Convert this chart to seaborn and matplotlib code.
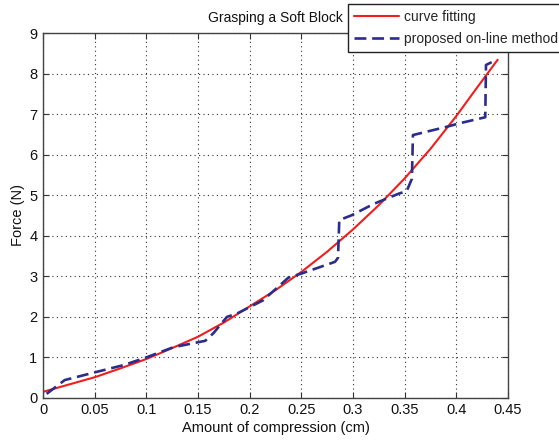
import matplotlib
matplotlib.use("Agg")
import matplotlib.pyplot as plt
import seaborn as sns
import pandas as pd

# Data
fit_x = [0.0, 0.025, 0.05, 0.075, 0.1, 0.125, 0.15, 0.175, 0.2, 0.225, 0.25,
         0.275, 0.3, 0.325, 0.35, 0.375, 0.4, 0.42, 0.44]
fit_y = [0.14, 0.32, 0.5, 0.72, 0.95, 1.22, 1.5, 1.85, 2.25, 2.65, 3.1,
         3.6, 4.15, 4.75, 5.41, 6.14, 6.95, 7.65, 8.34]

online_x = [0.0035, 0.021, 0.05, 0.078, 0.1, 0.126, 0.157, 0.165, 0.178, 0.1875,
            0.213, 0.2375, 0.25, 0.2826, 0.2855, 0.2867, 0.2987, 0.32, 0.344,
            0.352, 0.357, 0.358, 0.39, 0.403, 0.428, 0.4287, 0.439]
online_y = [0.09, 0.43, 0.62, 0.8, 0.99, 1.24, 1.4, 1.59, 1.99, 2.07,
            2.4, 2.96, 3.06, 3.35, 3.45, 4.38, 4.5, 4.78, 5.03,
            5.1, 5.4, 6.48, 6.68, 6.77, 6.92, 8.21, 8.34]

x_ticks = [0, 0.05, 0.1, 0.15, 0.2, 0.25, 0.3, 0.35, 0.4, 0.45]
x_tick_labels = ["0", "0.05", "0.1", "0.15", "0.2", "0.25", "0.3", "0.35", "0.4", "0.45"]
y_ticks = list(range(0, 10))

title = "Grasping a Soft Block"
x_label = "Amount of compression (cm)"
y_label = "Force (N)"
labels = ["curve fitting", "proposed on-line method"]

sns.set_style("white")
plt.rcParams["font.family"] = ["Liberation Sans", "DejaVu Sans"]
fs = 10

fig = plt.figure(figsize=(5.59, 4.40), dpi=100)
ax = fig.add_axes([43 / 559, 1 - 397.5 / 440, (508 - 43) / 559, (397.5 - 33) / 440])

df_fit = pd.DataFrame({"x": fit_x, "y": fit_y})
df_on = pd.DataFrame({"x": online_x, "y": online_y})

sns.lineplot(data=df_fit, x="x", y="y", ax=ax, color="#f21c1c", linewidth=1.5,
             label=labels[0], sort=False)
sns.lineplot(data=df_on, x="x", y="y", ax=ax, color="#2b2d8c", linewidth=1.9,
             linestyle=(0, (4.5, 2.2)), label=labels[1], sort=False)

ax.set_xlim(0, 0.45)
ax.set_ylim(0, 9)
ax.set_xticks(x_ticks)
ax.set_xticklabels(x_tick_labels)
ax.set_yticks(y_ticks)
ax.grid(True, linestyle=(0, (1, 3)), color="#333333", linewidth=0.8)
ax.tick_params(direction="in", length=4, width=0.8, colors="#333333",
               labelsize=10.5, labelcolor="#111111", top=True, right=True,
               bottom=True, left=True, pad=4)
for s in ax.spines.values():
    s.set_color("#444444")
    s.set_linewidth(1.0)

ax.set_xlabel(x_label, fontsize=10.5, color="#111111", labelpad=3)
ax.set_ylabel(y_label, fontsize=10.5, color="#111111", labelpad=3)
ax.set_title(title, fontsize=fs, color="#111111", pad=8)

handles, lbls = ax.get_legend_handles_labels()
ax.get_legend().remove()
leg = fig.legend(handles, lbls, loc="upper left",
                 bbox_to_anchor=(348 / 559, 1 - 4 / 440), fontsize=fs,
                 frameon=True, fancybox=False, edgecolor="#222222",
                 framealpha=1, borderpad=0.45, handlelength=3.2,
                 handletextpad=0.4, labelspacing=0.55, borderaxespad=0)
leg.get_frame().set_linewidth(1.0)

fig.savefig("out.png", dpi=100)
